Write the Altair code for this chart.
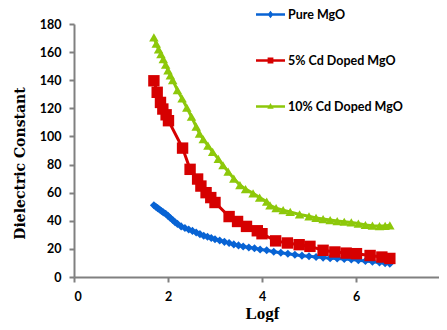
import altair as alt
import pandas as pd

series_names = ["Pure MgO", "5% Cd Doped MgO", "10% Cd Doped MgO"]
colors = ["#0863D4", "#D60000", "#8DC80A"]

pure_x = [1.70, 1.74, 1.78, 1.82, 1.86, 1.90, 1.95, 2.00, 2.05, 2.10, 2.15, 2.20, 2.28, 2.36,
          2.44, 2.52, 2.60, 2.68, 2.76, 2.84, 2.92, 3.00, 3.10, 3.20, 3.30, 3.40, 3.50, 3.60,
          3.72, 3.84, 3.96, 4.10, 4.25, 4.40, 4.55, 4.70, 4.85, 5.00, 5.15, 5.30, 5.45, 5.60,
          5.75, 5.90, 6.05, 6.20, 6.35, 6.50, 6.62, 6.72]
pure_y = [51.0, 50.0, 49.0, 48.0, 47.0, 46.0, 45.0, 43.5, 42.0, 40.5, 39.0, 37.8, 36.0, 34.8,
          33.8, 32.8, 31.6, 30.5, 29.4, 28.6, 27.8, 26.8, 26.0, 25.0, 24.2, 23.2, 22.5, 21.7,
          21.0, 20.4, 19.6, 19.0, 18.0, 17.2, 16.5, 15.8, 15.2, 14.7, 14.2, 13.8, 13.4, 13.1,
          12.8, 12.5, 12.0, 11.4, 10.8, 10.3, 9.8, 9.5]

cd5_x = [1.70, 1.77, 1.84, 1.89, 1.96, 2.01, 2.31, 2.47, 2.63, 2.70, 2.81, 2.91, 3.00, 3.30,
         3.48, 3.67, 3.90, 4.00, 4.29, 4.54, 4.79, 5.02, 5.30, 5.55, 5.79, 6.01, 6.30, 6.55, 6.72]
cd5_y = [139.6, 131.4, 124.2, 119.5, 115.4, 111.2, 91.7, 76.6, 69.7, 64.7, 60.0, 56.5, 53.0, 43.0,
         39.5, 36.0, 32.9, 30.8, 25.7, 24.2, 23.0, 21.8, 19.0, 17.8, 17.0, 16.6, 15.3, 14.2, 13.2]

cd10_x = [1.70, 1.75, 1.80, 1.85, 1.90, 1.95, 2.00, 2.05, 2.10, 2.20, 2.30, 2.40, 2.50, 2.60,
          2.67, 2.75, 2.85, 2.95, 3.07, 3.17, 3.28, 3.40, 3.53, 3.65, 3.81, 3.95, 4.10, 4.17,
          4.30, 4.45, 4.60, 4.80, 5.00, 5.15, 5.30, 5.45, 5.60, 5.75, 5.90, 6.05, 6.20, 6.35,
          6.50, 6.62, 6.72]
cd10_y = [170.5, 166.0, 162.0, 158.5, 155.0, 151.0, 147.0, 143.5, 140.0, 133.0, 127.0, 120.5, 114.0, 107.0,
          102.0, 98.0, 93.5, 89.0, 84.0, 79.5, 75.0, 70.0, 65.4, 62.5, 59.5, 56.5, 53.6, 51.0,
          49.0, 47.6, 46.3, 44.5, 43.2, 42.0, 41.2, 40.5, 39.8, 39.3, 38.8, 38.0, 37.0, 36.5,
          36.2, 36.3, 36.8]

x_ticks = [0, 2, 4, 6, 8]
y_ticks = [0, 20, 40, 60, 80, 100, 120, 140, 160, 180]

frames = []
for name, xs, ys in [(series_names[0], pure_x, pure_y),
                     (series_names[1], cd5_x, cd5_y),
                     (series_names[2], cd10_x, cd10_y)]:
    frames.append(pd.DataFrame({"logf": xs, "eps": ys, "series": name}))
df = pd.concat(frames, ignore_index=True)

xaxis = alt.Axis(values=x_ticks, title="Logf", titleFont="Liberation Serif",
                 titleFontSize=17, titleFontWeight="bold", titleColor="black",
                 titleBaseline="alphabetic", titleY=41, titleX=188,
                 labelPadding=8, labelOverlap=False)
yaxis = alt.Axis(values=y_ticks, title="Dielectric Constant",
                 titleFont="DejaVu Serif", titleFontSize=14, titleFontWeight="bold",
                 titleColor="black", titleX=-47, titleY=139,
                 labelPadding=8, labelOverlap=False)


def xenc():
    return alt.X("logf:Q", scale=alt.Scale(domain=[0, 8], range=[0, 376]), axis=xaxis)


def yenc():
    return alt.Y("eps:Q", scale=alt.Scale(domain=[0, 180]), axis=yaxis)


color_scale = alt.Scale(domain=series_names, range=colors)
base = alt.Chart(df)

lines = base.mark_line(strokeWidth=3).encode(
    x=xenc(), y=yenc(),
    color=alt.Color("series:N", scale=color_scale, legend=None),
)

shapes = {series_names[0]: ("diamond", 65), series_names[1]: ("square", 130), series_names[2]: ("triangle-up", 90)}
point_layers = []
for name in series_names:
    shp, sz = shapes[name]
    point_layers.append(
        base.transform_filter(alt.datum.series == name).mark_point(
            shape=shp, filled=True, size=sz, opacity=1
        ).encode(
            x=xenc(), y=yenc(),
            color=alt.Color("series:N", scale=color_scale, legend=None),
        )
    )

leg_paths = [
    "M-1,-0.09H1V0.09H-1Z M0,-0.26L0.2,0L0,0.26L-0.2,0Z",
    "M-1,-0.09H1V0.09H-1Z M-0.2,-0.2H0.2V0.2H-0.2Z",
    "M-1,-0.09H1V0.09H-1Z M0,-0.24L0.22,0.16H-0.22Z",
]

leg = alt.Legend(title=None, orient="none", legendX=182, legendY=-24,
                 symbolSize=841, symbolOpacity=1, symbolStrokeWidth=0,
                 rowPadding=25, labelFont="Lato", labelFontSize=12.5,
                 labelFontWeight="bold", labelColor="black", labelOffset=3,
                 padding=0)

legend_layer = base.mark_point(filled=True, opacity=0, size=841).encode(
    x=xenc(), y=yenc(),
    color=alt.Color("series:N", scale=alt.Scale(domain=series_names, range=colors), legend=leg),
    shape=alt.Shape("series:N", scale=alt.Scale(domain=series_names, range=leg_paths), legend=leg),
)

chart = alt.layer(lines, *point_layers, legend_layer).resolve_scale(
    color="independent", shape="independent"
).properties(
    width=365, height=253,
    autosize=alt.AutoSizeParams(type="none"),
    padding={"left": 66, "top": 16, "right": 0, "bottom": 45},
).configure_view(stroke=None).configure_axis(
    grid=False, domainColor="#808080", domainWidth=2, tickColor="#808080", tickWidth=2,
    tickSize=5, labelFont="Lato", labelFontSize=12.5, labelFontWeight="bold", labelColor="black",
)

chart.save("out.html", embed_options={"renderer": "svg", "actions": False})
